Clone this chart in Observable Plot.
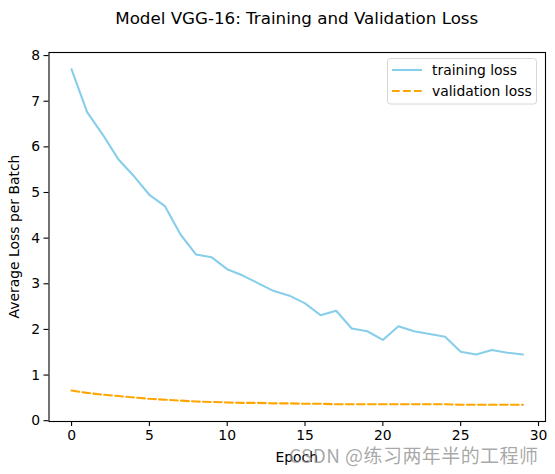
<!DOCTYPE html>
<html>
<head>
<meta charset="utf-8">
<script src="https://cdn.jsdelivr.net/npm/d3@7"></script>
<script src="https://cdn.jsdelivr.net/npm/@observablehq/plot@0.6"></script>
<style>
  body { margin: 0; background: #fff; }
</style>
</head>
<body>
<div id="chart"></div>
<script>
const epochs = d3.range(30)
const trainingLoss = [7.70, 6.76, 6.27, 5.73, 5.36, 4.95, 4.70, 4.08, 3.64, 3.58,
  3.32, 3.18, 3.01, 2.84, 2.74, 2.57, 2.31, 2.41, 2.02, 1.96,
  1.77, 2.07, 1.96, 1.90, 1.84, 1.51, 1.45, 1.55, 1.49, 1.45]
const validationLoss = [0.66, 0.61, 0.57, 0.54, 0.51, 0.48, 0.46, 0.44, 0.42, 0.41,
  0.40, 0.39, 0.39, 0.38, 0.38, 0.37, 0.37, 0.36, 0.36, 0.36,
  0.36, 0.36, 0.36, 0.36, 0.36, 0.35, 0.35, 0.35, 0.35, 0.35]
const xTicks = [0, 5, 10, 15, 20, 25, 30]
const yTicks = [0, 1, 2, 3, 4, 5, 6, 7, 8]

const rows = epochs.map((e, i) => ({epoch: e, train: trainingLoss[i], val: validationLoss[i]}))

const font = "DejaVu Sans, sans-serif"

let chart = Plot.plot({
  width: 555,
  height: 474,
  marginLeft: 48.5,
  marginRight: 10,
  marginTop: 52,
  marginBottom: 53,
  style: {fontFamily: font, fontSize: "13.9px", color: "#000", background: "#fff"},
  x: {domain: [-1.45, 30.45]},
  y: {domain: [-0.0175, 8.0675]},
  marks: [
    Plot.axisX({ticks: xTicks, tickSize: 5, tickPadding: 4, label: null, stroke: "#000", strokeWidth: 1.1}),
    Plot.axisY({ticks: yTicks, tickSize: 5, tickPadding: 4, label: null, stroke: "#000", strokeWidth: 1.1}),
    Plot.line(rows, {x: "epoch", y: "val", stroke: "#ffa500", strokeWidth: 2.1, strokeDasharray: "7.7 3.3"}),
    Plot.line(rows, {x: "epoch", y: "train", stroke: "#87ceeb", strokeWidth: 2.1}),
    Plot.frame({stroke: "#000", strokeWidth: 1.1})
  ]
})

const svg = d3.select(chart)
const cx = (48.5 + 545) / 2

svg.append("text")
  .attr("x", cx).attr("y", 24)
  .attr("text-anchor", "middle")
  .style("font", "16.7px " + font)
  .text("Model VGG-16: Training and Validation Loss")

svg.append("text")
  .attr("transform", `translate(19,${(52 + 421) / 2}) rotate(-90)`)
  .attr("text-anchor", "middle")
  .style("font", "13.9px " + font)
  .text("Average Loss per Batch")

svg.append("text")
  .attr("x", cx).attr("y", 462)
  .attr("text-anchor", "middle")
  .style("font", "13.9px " + font)
  .text("Epoch")

// legend
const lg = svg.append("g").style("font", "13.9px " + font).attr("text-anchor", "start")
lg.append("rect")
  .attr("x", 387.5).attr("y", 58.5).attr("width", 149).attr("height", 45.5)
  .attr("rx", 3).attr("fill", "#fff").attr("fill-opacity", 0.8)
  .attr("stroke", "#d6d6d6")
lg.append("path").attr("d", "M392,70H422")
  .attr("fill", "none").attr("stroke", "#87ceeb").attr("stroke-width", 2.1)
lg.append("path").attr("d", "M392,91H422")
  .attr("fill", "none").attr("stroke", "#ffa500").attr("stroke-width", 2.1).attr("stroke-dasharray", "7.7 3.3")
lg.append("text").attr("x", 432).attr("y", 75).attr("fill", "#000").text("training loss")
lg.append("text").attr("x", 432).attr("y", 96).attr("fill", "#000").text("validation loss")

// watermark
svg.append("text")
  .attr("x", 289).attr("y", 463)
  .attr("text-anchor", "start")
  .attr("textLength", 249)
  .attr("fill", "#8c8c8c").attr("fill-opacity", 0.75)
  .style("font", "19px 'Noto Sans CJK SC', sans-serif")
  .text("CSDN @练习两年半的工程师")

d3.select('#chart').append(() => chart)
</script>
</body>
</html>
